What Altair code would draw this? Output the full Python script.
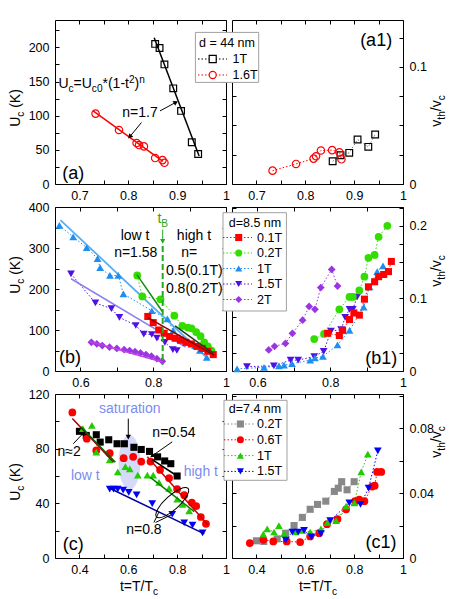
import json
import altair as alt
import pandas as pd

FONT = "Liberation Sans"
PW, PH = 171, 164

# ----------------------------- data ---------------------------------
# (a) d = 44 nm : U_c vs t
a_t_1T = [0.855, 0.864, 0.874, 0.892, 0.908, 0.930, 0.943]
a_U_1T = [205, 199, 175, 140, 107, 61, 44]
a_t_16T = [0.733, 0.781, 0.817, 0.822, 0.832, 0.855, 0.870, 0.874]
a_U_16T = [103, 79, 60, 57, 55, 38, 35, 31]
a_fit1_t, a_fit1_U = [0.853, 0.945], [214, 41]
a_fit2_t, a_fit2_U = [0.728, 0.871], [107, 33]
# (a1) v_th/v_c
a1_t_1T = [0.856, 0.872, 0.890, 0.907, 0.929, 0.943]
a1_v_1T = [0.0194, 0.0245, 0.0266, 0.038, 0.0317, 0.0423]
a1_t_16T = [0.733, 0.781, 0.817, 0.822, 0.832, 0.855, 0.870, 0.874]
a1_v_16T = [0.0114, 0.0171, 0.0217, 0.0237, 0.0286, 0.0289, 0.0271, 0.0211]

# (b) d = 8.5 nm
b_t_01 = [0.785, 0.80, 0.815, 0.83, 0.845, 0.86, 0.875, 0.89, 0.905, 0.92, 0.935, 0.95, 0.965]
b_U_01 = [133, 118, 100, 92, 84, 80, 75, 70, 66, 60, 55, 48, 40]
b_t_02 = [0.756, 0.77, 0.82, 0.858, 0.88, 0.895, 0.905, 0.918, 0.93, 0.94, 0.95, 0.96]
b_U_02 = [233, 182, 175, 135, 110, 106, 104, 95, 85, 70, 60, 50]
b_t_1 = [0.542, 0.58, 0.617, 0.647, 0.654, 0.681, 0.704, 0.718, 0.796, 0.839, 0.855, 0.873, 0.896, 0.915, 0.928, 0.947]
b_U_1 = [355, 327, 301, 274, 252, 233, 233, 188, 147, 127, 99, 82, 70, 62, 50, 33]
b_t_15 = [0.574, 0.641, 0.685, 0.707, 0.752, 0.774, 0.796, 0.81, 0.832, 0.854, 0.865]
b_U_15 = [237, 166, 152, 131, 111, 90, 89, 80, 70, 52, 50]
b_t_2 = [0.63, 0.645, 0.66, 0.68, 0.70, 0.72, 0.735, 0.75, 0.765, 0.78, 0.795, 0.81, 0.825]
b_U_2 = [70, 66, 62, 58, 55, 52, 50, 47, 44, 40, 36, 30, 24]
b_tB = 0.826
# (b) fits: (t0, U0, t1, U1)
b_fit_1 = [0.545, 368, 0.953, 28]
b_fit_15 = [0.574, 225, 0.889, 58]
b_fit_2 = [0.625, 72, 0.825, 22]
b_fit_01 = [0.785, 130, 0.968, 38]
b_fit_02lo = [0.755, 235, 0.825, 145]
b_fit_02hi = [0.86, 110, 0.965, 43]

# (b1)
b1_t_01 = [0.793, 0.825, 0.834, 0.853, 0.865, 0.880, 0.894, 0.905, 0.922, 0.933, 0.947, 0.960, 0.968]
b1_v_01 = [0.052, 0.049, 0.056, 0.071, 0.08, 0.077, 0.099, 0.116, 0.123, 0.13, 0.133, 0.137, 0.151]
b1_t_02 = [0.756, 0.783, 0.825, 0.853, 0.862, 0.880, 0.894, 0.905, 0.922, 0.933, 0.957]
b1_v_02 = [0.044, 0.051, 0.085, 0.102, 0.102, 0.111, 0.13, 0.156, 0.16, 0.185, 0.2]
b1_t_1 = [0.544, 0.618, 0.659, 0.673, 0.695, 0.745, 0.758, 0.78, 0.82, 0.853, 0.892, 0.908, 0.929, 0.945]
b1_v_1 = [0.003, 0.005, 0.007, 0.008, 0.01, 0.015, 0.018, 0.02, 0.036, 0.056, 0.088, 0.116, 0.137, 0.145]
b1_t_15 = [0.571, 0.645, 0.691, 0.712, 0.756, 0.782, 0.802, 0.83, 0.841, 0.853, 0.862, 0.874]
b1_v_15 = [0.006, 0.007, 0.015, 0.015, 0.02, 0.027, 0.055, 0.057, 0.074, 0.085, 0.085, 0.102]
b1_t_2 = [0.631, 0.647, 0.677, 0.696, 0.724, 0.742, 0.758, 0.774, 0.804, 0.82]
b1_v_2 = [0.029, 0.034, 0.038, 0.052, 0.07, 0.089, 0.085, 0.115, 0.14, 0.117]

# (c) d = 7.4 nm
c_t_02 = [0.40, 0.428, 0.469, 0.485, 0.52, 0.554, 0.584, 0.623, 0.653, 0.687, 0.72, 0.749, 0.774, 0.80]
c_U_02 = [92.7, 89.7, 90.2, 84.8, 86.5, 83.6, 83.6, 81, 79.4, 78, 74, 71, 69, 60]
c_t_06 = [0.371, 0.43, 0.469, 0.524, 0.581, 0.62, 0.653, 0.691, 0.73, 0.767, 0.80, 0.829, 0.86, 0.878, 0.897, 0.918]
c_U_06 = [106.5, 87.3, 78.7, 76.7, 73, 74, 70.6, 70.6, 64.4, 58.5, 50.4, 46, 40.6, 38, 30, 25]
c_t_1 = [0.414, 0.451, 0.469, 0.524, 0.557, 0.588, 0.606, 0.639, 0.678, 0.702, 0.726, 0.767, 0.80, 0.822, 0.849]
c_U_1 = [94.7, 97, 77.5, 71.8, 63, 66.9, 65.2, 60.7, 60.7, 60.7, 55.3, 50.9, 43, 39.3, 34.4]
c_t_15 = [0.524, 0.54, 0.557, 0.579, 0.602, 0.634, 0.698, 0.78, 0.829, 0.863, 0.904]
c_U_15 = [50.4, 50.4, 50.4, 49.7, 48, 46.2, 39.8, 32, 25.8, 24.1, 18.4]
c_fit_06lo = [0.371, 102, 0.54, 70]
c_fit_1lo = [0.406, 96, 0.547, 70]
c_fit_06hi = [0.678, 74, 0.927, 24]
c_fit_1hi = [0.69, 59, 0.87, 34]
c_fit_15 = [0.524, 51, 0.911, 17.7]
c_fit_02hi = [0.698, 72, 0.80, 60]

# (c1)
c1_t_02 = [0.40, 0.43, 0.485, 0.52, 0.554, 0.588, 0.62, 0.65, 0.684, 0.719, 0.735, 0.749, 0.771, 0.80]
c1_v_02 = [0.0106, 0.0102, 0.0118, 0.0153, 0.02, 0.025, 0.03, 0.033, 0.035, 0.041, 0.043, 0.047, 0.042, 0.047]
c1_t_06 = [0.373, 0.428, 0.469, 0.524, 0.579, 0.62, 0.657, 0.689, 0.732, 0.767, 0.804, 0.821, 0.842, 0.873, 0.884, 0.894, 0.911]
c1_v_06 = [0.0092, 0.0112, 0.0102, 0.0102, 0.0098, 0.0133, 0.0153, 0.0208, 0.024, 0.030, 0.035, 0.036, 0.035, 0.044, 0.0445, 0.053, 0.053]
c1_t_1 = [0.428, 0.444, 0.472, 0.492, 0.513, 0.561, 0.588, 0.62, 0.664, 0.691, 0.726, 0.767, 0.801, 0.829, 0.856]
c1_v_1 = [0.0147, 0.018, 0.016, 0.02, 0.015, 0.016, 0.017, 0.016, 0.018, 0.022, 0.023, 0.032, 0.034, 0.053, 0.064]
c1_t_15 = [0.52, 0.547, 0.571, 0.595, 0.625, 0.664, 0.702, 0.78, 0.826, 0.859, 0.897]
c1_v_15 = [0.011, 0.016, 0.016, 0.017, 0.013, 0.015, 0.023, 0.034, 0.033, 0.043, 0.066]

# colours / labels
RED, GREEN_B, BLUE_1, VIOL_15, PURP_2 = "#ff0000", "#33dd00", "#1e8ff0", "#4f10e6", "#9b35e3"
GREEN_C, BLUE_C, GRAY = "#22cc00", "#0000ff", "#888888"
NOTE_BLUE = "#7b8cf2"
leg_a = ["1T", "1.6T"]
leg_b = ["0.1T", "0.2T", "1T", "1.5T", "2T"]
leg_c = ["0.2T", "0.6T", "1T", "1.5T"]

# ------------------------- helpers -----------------------------------
CW = {' ': .278, '(': .333, ')': .333, '*': .389, '-': .333, '.': .278, '/': .278, '=': .584,
      '≈': .584, 'U': .722, 'K': .667, 'T': .611, 'B': .667, 'c': .5, 't': .278, 'h': .556,
      'v': .5, 'n': .556}


def tw(s, size):
    return sum(CW.get(ch, 0.556) for ch in s) * size


ONE = pd.DataFrame({"t": [0.0], "y": [0.0]})
ELLIPSE = ("M-1,0 C-1,-0.22 -0.55,-0.4 0,-0.4 C0.55,-0.4 1,-0.22 1,0 "
           "C1,0.22 0.55,0.4 0,0.4 C-0.55,0.4 -1,0.22 -1,0 Z")
RING = ("M-1,0 C-1,-0.18 -0.55,-0.33 0,-0.33 C0.55,-0.33 1,-0.18 1,0 "
        "C1,0.18 0.55,0.33 0,0.33 C-0.55,0.33 -1,0.18 -1,0 Z")


def lab_expr(vals):
    return "indexof(%s, datum.value) >= 0 ? format(datum.value, '~g') : ''" % json.dumps(vals)


AX = dict(domain=False, grid=False, title=None, tickColor="black", tickWidth=1, tickSize=4,
          offset=-4, labelFont=FONT, labelFontSize=12.5, labelColor="black",
          labelOverlap=False, labelFlush=False)


class Panel:
    def __init__(self, xdom, ydom):
        self.xdom, self.ydom = xdom, ydom
        self.sx = alt.Scale(domain=xdom, nice=False, zero=False)
        self.sy = alt.Scale(domain=ydom, nice=False, zero=False)
        self.layers = []

    def X(self):
        return alt.X("t:Q", scale=self.sx, axis=None)

    def Y(self):
        return alt.Y("y:Q", scale=self.sy, axis=None)

    def axes(self, xt, xl, yt, yl, yside):
        one = pd.DataFrame({"t": [self.xdom[0]], "y": [self.ydom[0]]})
        xb = alt.Axis(orient="bottom", values=xt, labelExpr=lab_expr(xl), labelPadding=5, **AX)
        xtop = alt.Axis(orient="top", values=xt, labels=False, **AX)
        ylab = alt.Axis(orient=yside, values=yt, labelExpr=lab_expr(yl), labelPadding=6, **AX)
        yoth = alt.Axis(orient="right" if yside == "left" else "left", values=yt, labels=False, **AX)
        self.layers.append(alt.Chart(one).mark_point(opacity=0).encode(
            x=alt.X("t:Q", scale=self.sx, axis=xb), y=alt.Y("y:Q", scale=self.sy, axis=ylab)))
        self.layers.append(alt.Chart(one).mark_point(opacity=0).encode(
            x=alt.X("t:Q", scale=self.sx, axis=xtop), y=alt.Y("y:Q", scale=self.sy, axis=yoth)))

    def points(self, t, y, shape, color, filled=True, size=55, sw=1.2):
        df = pd.DataFrame({"t": t, "y": y})
        kw = dict(shape=shape, filled=filled, color=color, size=size, opacity=1, strokeWidth=sw)
        if not filled:
            kw["fill"] = "transparent"
        self.layers.append(alt.Chart(df).mark_point(**kw).encode(x=self.X(), y=self.Y()))

    def line(self, t, y, color, width=1.5, dash=None):
        df = pd.DataFrame({"t": t, "y": y})
        kw = dict(color=color, strokeWidth=width)
        if dash:
            kw["strokeDash"] = dash
        self.layers.append(alt.Chart(df).mark_line(**kw).encode(x=self.X(), y=self.Y()))

    def seg(self, s, color, width=1.5, dash=None):
        self.line([s[0], s[2]], [s[1], s[3]], color, width, dash)

    def text(self, t, y, txt, size=14, color="black", align="center"):
        df = pd.DataFrame({"t": [t], "y": [y]})
        self.layers.append(alt.Chart(df).mark_text(text=txt, font=FONT, fontSize=size, color=color,
                                                   align=align, baseline="middle").encode(x=self.X(), y=self.Y()))

    def rich(self, segs, size, color, x, y, align="center", angle=0, data=ONE):
        sub = size * 0.72
        ws = [tw(s, size if k == "n" else sub) for s, k in segs]
        total = sum(ws)
        pos = {"left": 0, "center": -total / 2, "right": -total}[align]
        for (s, k), w in zip(segs, ws):
            fs = size if k == "n" else sub
            dy = 0 if k == "n" else (0.28 * size if k == "sub" else -0.38 * size)
            lead = len(s) - len(s.lstrip(" "))
            start = pos + tw(" " * lead, fs)
            self.layers.append(alt.Chart(data).mark_text(text=s.strip(" "), font=FONT, fontSize=fs, color=color,
                                                         align="left", baseline="alphabetic", dx=start, dy=dy,
                                                         angle=angle).encode(x=x, y=y))
            pos += w

    def rich_data(self, segs, size, color, t, y, align="left"):
        df = pd.DataFrame({"t": [t], "y": [y]})
        self.rich(segs, size, color, self.X(), self.Y(), align=align, data=df)

    def arrow(self, t0, y0, t1, y1, ang, color="black"):
        df = pd.DataFrame({"t": [t0, t1], "y": [y0, y1]})
        self.layers.append(alt.Chart(df).mark_line(color=color, strokeWidth=1).encode(x=self.X(), y=self.Y()))
        self.layers.append(alt.Chart(df.iloc[[1]]).mark_point(shape="triangle", filled=True, color=color,
                                                               size=28, angle=ang, opacity=1).encode(x=self.X(), y=self.Y()))

    def legend(self, title, labels, colors, shapes, filled, box, title_xy, rows, sym_x, line_x, lab_x,
               size=50, fs=12.5):
        x0, y0, x1, y1 = box
        self.layers.append(alt.Chart(ONE).mark_rect(fill="white", stroke="#a0a0a0", strokeWidth=1).encode(
            x=alt.value(x0), x2=alt.value(x1), y=alt.value(y0), y2=alt.value(y1)))
        self.layers.append(alt.Chart(ONE).mark_text(text=title, font=FONT, fontSize=fs, align="left",
                                                    baseline="middle", color="black").encode(
            x=alt.value(title_xy[0]), y=alt.value(title_xy[1])))
        for lab, col, shp, fil, yy in zip(labels, colors, shapes, filled, rows):
            self.layers.append(alt.Chart(ONE).mark_rule(color=col, strokeDash=[1.5, 2], strokeWidth=1).encode(
                x=alt.value(line_x[0]), x2=alt.value(line_x[1]), y=alt.value(yy)))
            kw = dict(shape=shp, filled=fil, color=col, size=size, opacity=1, strokeWidth=1.2)
            if not fil:
                kw["fill"] = "white"
            self.layers.append(alt.Chart(ONE).mark_point(**kw).encode(x=alt.value(sym_x), y=alt.value(yy)))
            self.layers.append(alt.Chart(ONE).mark_text(text=lab, font=FONT, fontSize=fs, align="left",
                                                        baseline="middle", color="black").encode(
                x=alt.value(lab_x), y=alt.value(yy)))

    def build(self):
        return alt.layer(*self.layers).resolve_axis(x="independent", y="independent").properties(
            width=PW, height=PH)


U_TITLE = [("U", "n"), ("c", "sub"), (" (K)", "n")]
V_TITLE = [("v", "n"), ("th", "sub"), ("/v", "n"), ("c", "sub")]
T_TITLE = [("t=T/T", "n"), ("c", "sub")]

# ------------------------------ (a) ----------------------------------
pa = Panel([0.65, 1.0], [0, 240])
pa.axes([0.7, 0.75, 0.8, 0.85, 0.9, 0.95, 1.0], [0.7, 0.8, 0.9, 1.0],
        [0, 25, 50, 75, 100, 125, 150, 175, 200, 225], [0, 50, 100, 150, 200], "left")
pa.seg([a_fit1_t[0], a_fit1_U[0], a_fit1_t[1], a_fit1_U[1]], "black")
pa.seg([a_fit2_t[0], a_fit2_U[0], a_fit2_t[1], a_fit2_U[1]], RED)
pa.points(a_t_1T, a_U_1T, "square", "black", filled=False, size=45)
pa.points(a_t_16T, a_U_16T, "circle", RED, filled=False, size=55)
pa.rich_data([("U", "n"), ("c", "sub"), ("=U", "n"), ("c0", "sub"), ("*(1-t", "n"), ("2", "sup"),
              (")", "n"), ("n", "sup")], 14, "black", 0.657, 140)
pa.text(0.824, 104, "n=1.7")
pa.arrow(0.865, 107, 0.896, 119, 61)
pa.arrow(0.827, 90, 0.804, 70, 221)
pa.text(0.6875, 15, "(a)", size=18)
pa.rich(U_TITLE, 14, "black", alt.value(-35), alt.value(88), angle=270)

pa1 = Panel([0.65, 1.0], [0, 0.14])
pa1.axes([0.7, 0.75, 0.8, 0.85, 0.9, 0.95, 1.0], [0.7, 0.8, 0.9, 1.0],
         [0, 0.025, 0.05, 0.075, 0.1, 0.125], [0, 0.1], "right")
pa1.line(a1_t_1T, a1_v_1T, "#777777", 1, [1.5, 2])
pa1.line(a1_t_16T, a1_v_16T, RED, 1, [1.5, 2])
pa1.points(a1_t_1T, a1_v_1T, "square", "black", filled=False, size=45)
pa1.points(a1_t_16T, a1_v_16T, "circle", RED, filled=False, size=55)
pa1.text(0.945, 0.122, "(a1)", size=18)
pa1.legend("d = 44 nm", leg_a, ["black", RED], ["square", "circle"], [False, False],
           (-36.6, 12.4, 26.7, 62.4), (-33, 23), [39, 55], -19.3, (-34, -5), 0.5)
pa1.rich(V_TITLE, 14, "black", alt.value(208.7), alt.value(91), angle=270)

# ------------------------------ (b) ----------------------------------
pb = Panel([0.53, 1.0], [0, 400])
pb.axes([0.6, 0.7, 0.8, 0.9, 1.0], [0.6, 0.8, 1.0],
        [0, 50, 100, 150, 200, 250, 300, 350, 400], [0, 100, 200, 300, 400], "left")
for t, u, c in [(b_t_01, b_U_01, RED), (b_t_02, b_U_02, GREEN_B), (b_t_1, b_U_1, BLUE_1),
                (b_t_15, b_U_15, VIOL_15), (b_t_2, b_U_2, PURP_2)]:
    pb.line(t, u, c, 1, [1.5, 2])
pb.seg(b_fit_1, "#5aaef0", 1.8)
pb.seg(b_fit_15, "#8a80f0", 1.5)
pb.points(b_t_2, b_U_2, "diamond", PURP_2, size=60)
pb.seg(b_fit_2, "#c040e0", 1.5)
pb.points(b_t_15, b_U_15, "triangle-down", VIOL_15, size=60)
pb.points(b_t_1, b_U_1, "triangle-up", BLUE_1, size=60)
pb.points(b_t_02, b_U_02, "circle", GREEN_B, size=60)
pb.points(b_t_01, b_U_01, "square", RED, size=50)
pb.seg(b_fit_01, "#8b0000", 1.5)
pb.seg(b_fit_02lo, "#1a8a1a", 1.5)
pb.seg(b_fit_02hi, "#1f3f1f", 1.5)
pb.line([b_tB, b_tB], [305, 15], "#22aa22", 2, [6, 3])
pb.arrow(b_tB, 345, b_tB, 318, 180, "#22aa22")
pb.rich_data([("t", "n"), ("B", "sub")], 14, "#22aa22", b_tB, 362, align="center")
pb.text(0.75, 329, "low t")
pb.text(0.752, 288, "n=1.58")
pb.text(0.912, 329, "high t")
pb.text(0.899, 288, "n=")
pb.text(0.913, 244, "0.5(0.1T)")
pb.text(0.913, 199, "0.8(0.2T)")
pb.text(0.571, 32, "(b)", size=18)
pb.rich(U_TITLE, 14, "black", alt.value(-35), alt.value(68), angle=270)

pb1 = Panel([0.53, 1.0], [0, 0.226])
pb1.axes([0.6, 0.7, 0.8, 0.9, 1.0], [0.6, 0.8, 1.0],
         [0, 0.025, 0.05, 0.075, 0.1, 0.125, 0.15, 0.175, 0.2, 0.225], [0, 0.1, 0.2], "right")
series_b1 = [(b1_t_01, b1_v_01, RED, "square", 50), (b1_t_02, b1_v_02, GREEN_B, "circle", 60),
             (b1_t_1, b1_v_1, BLUE_1, "triangle-up", 60), (b1_t_15, b1_v_15, VIOL_15, "triangle-down", 60),
             (b1_t_2, b1_v_2, PURP_2, "diamond", 60)]
for t, v, c, s, z in series_b1:
    pb1.line(t, v, c, 1, [1.5, 2])
for t, v, c, s, z in reversed(series_b1):
    pb1.points(t, v, s, c, size=z)
pb1.text(0.94, 0.0166, "(b1)", size=18)
pb1.legend("d=8.5 nm", leg_b, [RED, GREEN_B, BLUE_1, VIOL_15, PURP_2],
           ["square", "circle", "triangle-up", "triangle-down", "diamond"], [True] * 5,
           (-9, 5.7, 54.4, 104), (-3.3, 15.7), [30.5, 46, 61.5, 77, 92.5], 6.7, (-9, 20), 25)
pb1.rich(V_TITLE, 14, "black", alt.value(208.7), alt.value(64), angle=270)

# ------------------------------ (c) ----------------------------------
pc = Panel([0.3, 1.0], [0, 120])
pc.axes([0.4, 0.5, 0.6, 0.7, 0.8, 0.9, 1.0], [0.4, 0.6, 0.8, 1.0],
        [0, 20, 40, 60, 80, 100, 120], [0, 40, 80, 120], "left")
blob = pd.DataFrame({"t": [0.605], "y": [70]})
pc.layers.append(alt.Chart(blob).mark_point(shape=ELLIPSE, filled=True, color="#b9c1f6", opacity=0.6,
                                            size=3000, angle=90).encode(x=pc.X(), y=pc.Y()))
pc.points(c_t_02, c_U_02, "square", "black", size=50)
pc.points(c_t_06, c_U_06, "circle", RED, size=60)
pc.points(c_t_1, c_U_1, "triangle-up", GREEN_C, size=60)
pc.points(c_t_15, c_U_15, "triangle-down", BLUE_C, size=60)
pc.seg(c_fit_06lo, "#a00000", 1.5)
pc.seg(c_fit_1lo, "#006400", 1.5)
pc.seg(c_fit_06hi, "#d00000", 1.5)
pc.seg(c_fit_1hi, "#008000", 1.5)
pc.seg(c_fit_15, "#0000a0", 1.5)
pc.seg(c_fit_02hi, "black", 1.5)
ell = pd.DataFrame({"t": [0.78], "y": [40.5]})
pc.layers.append(alt.Chart(ell).mark_point(shape=RING, filled=False, fill="transparent",
                                           color="black", size=1800, angle=318, opacity=1, strokeWidth=1).encode(
    x=pc.X(), y=pc.Y()))
pc.line([0.705, 0.725], [26, 33.5], "black", 1)
pc.line([0.712, 0.775], [26, 31.5], "black", 1)
pc.text(0.606, 108.7, "saturation", size=14, color=NOTE_BLUE)
pc.arrow(0.6, 102, 0.6, 89, 180)
pc.text(0.787, 91.5, "n=0.54")
pc.arrow(0.78, 85, 0.70, 75, 235)
pc.text(0.358, 77.5, "n≈2")
pc.arrow(0.375, 83.6, 0.414, 91, 43)
pc.text(0.424, 60.2, "low t", size=14, color=NOTE_BLUE)
pc.text(0.897, 62.7, "high t", size=14, color=NOTE_BLUE)
pc.text(0.664, 20.2, "n=0.8")
pc.text(0.375, 9.8, "(c)", size=18)
pc.rich(U_TITLE, 14, "black", alt.value(-35), alt.value(88), angle=270)
pc.rich(T_TITLE, 14, "black", alt.value(84), alt.value(197))

pc1 = Panel([0.3, 1.0], [0, 0.101])
pc1.axes([0.4, 0.5, 0.6, 0.7, 0.8, 0.9, 1.0], [0.4, 0.6, 0.8, 1.0],
         [0, 0.02, 0.04, 0.06, 0.08, 0.1], [0, 0.04, 0.08], "right")
series_c1 = [(c1_t_02, c1_v_02, GRAY, "square", 50), (c1_t_06, c1_v_06, RED, "circle", 60),
             (c1_t_1, c1_v_1, GREEN_C, "triangle-up", 60), (c1_t_15, c1_v_15, BLUE_C, "triangle-down", 60)]
for t, v, c, s, z in series_c1:
    pc1.line(t, v, c, 1, [1.5, 2])
for t, v, c, s, z in series_c1:
    pc1.points(t, v, s, c, size=z)
pc1.text(0.91, 0.0093, "(c1)", size=18)
pc1.legend("d=7.4 nm", leg_c, [GRAY, RED, GREEN_C, BLUE_C],
           ["square", "circle", "triangle-up", "triangle-down"], [True] * 4,
           (-8, 6.3, 55, 86.3), (-3.3, 14.7), [30, 45.8, 61.6, 77.4], 8.4, (-8, 22), 25)
pc1.rich(V_TITLE, 14, "black", alt.value(208.7), alt.value(48), angle=270)
pc1.rich(T_TITLE, 14, "black", alt.value(86), alt.value(197))

chart = alt.concat(pa.build(), pa1.build(), pb.build(), pb1.build(), pc.build(), pc1.build(),
                   columns=2, spacing={"row": 23, "column": 6}, bounds="flush").configure_view(
    stroke="black", strokeWidth=1).properties(
    padding={"left": 0, "top": 11, "right": 5, "bottom": 0}, background="white")

chart.save("out.html", embed_options={"renderer": "svg", "actions": False})
